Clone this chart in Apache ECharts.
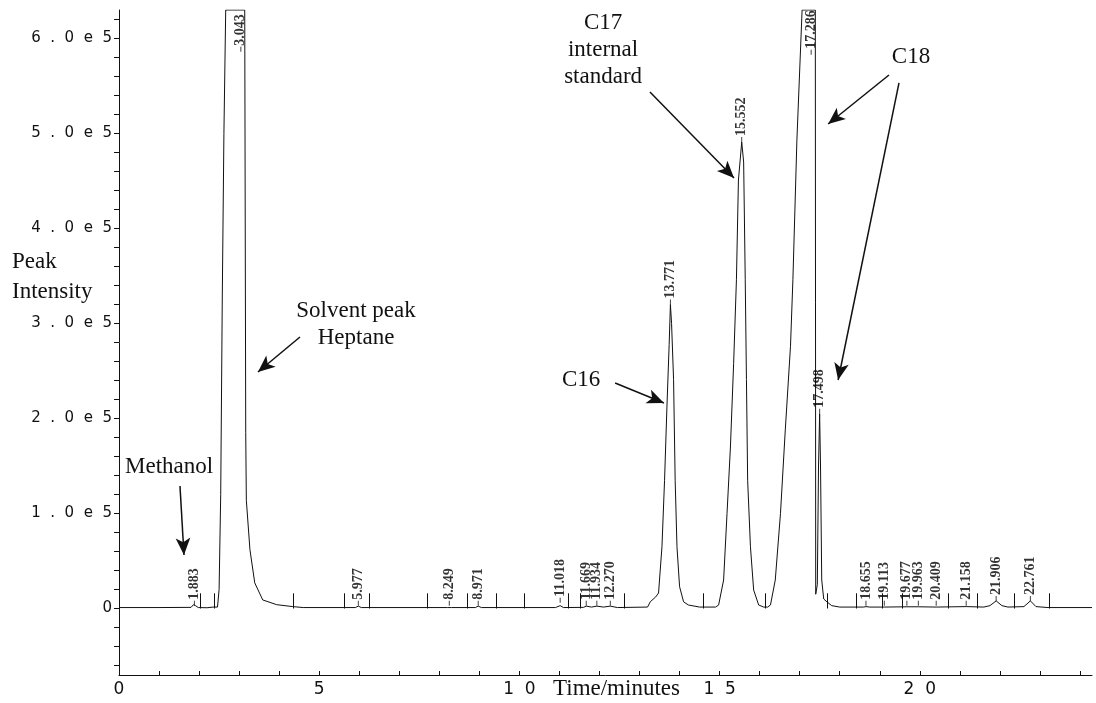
<!DOCTYPE html>
<html>
<head>
<meta charset="utf-8">
<title>Chromatogram</title>
<script src="https://cdn.jsdelivr.net/npm/echarts@6/dist/echarts.min.js"></script>
<style>
  html, body { margin: 0; padding: 0; background: #ffffff; }
  #chart { width: 1096px; height: 703px; }
</style>
</head>
<body>
<div id="chart"></div>
<script>
// ---- Chromatogram trace, [time (min), intensity] ----
const baselineEarly = [
  [0, 1000], [1.0, 1000], [1.80, 1200], [1.86, 4000], [1.883, 6000], [1.91, 3000],
  [1.98, 1000], [2.20, 800], [2.35, 1500], [2.46, 1500]
];
const solventPeak = [
  [2.50, 20000], [2.54, 120000], [2.58, 330000], [2.62, 500000], [2.665, 630000],
  [3.14, 630000], [3.165, 185000], [3.18, 114000], [3.27, 62000], [3.39, 27000],
  [3.59, 9000], [3.94, 4000], [4.34, 2000], [4.60, 1000]
];
const minorPeaksMid = [
  [5.90, 1000], [5.977, 2500], [6.05, 1000], [8.20, 1000], [8.249, 2000], [8.30, 1000],
  [8.90, 1000], [8.971, 2500], [9.05, 1000], [10.90, 1000], [11.018, 3000], [11.10, 1000],
  [11.60, 1200], [11.669, 2500], [11.80, 1500], [11.934, 2500], [12.10, 1500],
  [12.270, 2500], [12.45, 1000], [13.20, 1500]
];
const c16Peak = [
  [13.27, 7200], [13.40, 12000], [13.475, 16300], [13.56, 65000], [13.625, 135000],
  [13.685, 213000], [13.74, 278000], [13.771, 320000], [13.80, 300000], [13.85, 241000],
  [13.89, 135000], [13.935, 65000], [14.00, 23000], [14.10, 7000], [14.22, 3700], [14.50, 1500]
];
const c17Peak = [
  [14.90, 1500], [14.975, 3700], [15.10, 30000], [15.185, 100000], [15.27, 170000],
  [15.35, 258000], [15.42, 346000], [15.47, 451000], [15.552, 491000], [15.60, 470000],
  [15.64, 346000], [15.67, 241000], [15.70, 135000], [15.77, 65000], [15.85, 19500],
  [15.975, 3700], [16.10, 1500]
];
const c18Peak = [
  [16.20, 1500], [16.27, 3700], [16.39, 30000], [16.52, 100000], [16.64, 188000],
  [16.77, 276000], [16.83, 346000], [16.93, 493000], [17.06, 630000], [17.39, 630000],
  [17.40, 15000], [17.44, 25000], [17.47, 150000], [17.498, 205000], [17.52, 150000],
  [17.55, 30000], [17.60, 10000], [17.68, 7000], [17.80, 3000], [18.00, 1500]
];
const baselineLate = [
  [18.60, 1500], [18.655, 2000], [18.75, 1500], [19.113, 1500], [19.677, 1800],
  [19.963, 1800], [20.409, 1500], [21.158, 2000], [21.60, 1500], [21.75, 3000],
  [21.906, 8000], [22.05, 3000], [22.20, 1500], [22.60, 2000], [22.761, 8000],
  [22.90, 2000], [23.20, 1000], [24.30, 1000]
];

// ---- Retention-time labels and the level each label starts from ----
const peakTimes = ['1.883', '3.043', '5.977', '8.249', '8.971', '11.018', '11.669', '11.934',
  '12.270', '13.771', '15.552', '17.286', '17.498', '18.655', '19.113', '19.677', '19.963',
  '20.409', '21.158', '21.906', '22.761'];
const peakLabelLevels = [3000, 586000, 3000, 3000, 3000, 6000, 3000, 3000,
  3000, 320000, 491000, 583000, 205000, 3000, 3000, 3000, 3000,
  3000, 3000, 8000, 8000];

// ---- Integrator event marks on the baseline ----
const eventTimes = [2.02, 2.39, 4.35, 5.63, 6.25, 7.69, 8.70, 9.41, 10.12, 11.22, 11.53,
  12.63, 14.58, 16.13, 17.68, 18.42, 19.06, 19.56, 20.70, 21.43, 22.35, 23.22];
const eventMarkHeight = 16000;

// ---- Axis ticks ----
const yTickValues = [0, 100000, 200000, 300000, 400000, 500000, 600000];
const yTickLabels = ['0', '1.0e5', '2.0e5', '3.0e5', '4.0e5', '5.0e5', '6.0e5'];
const xTickValues = [0, 5, 10, 15, 20];
const xTickLabels = ['0', '5', '10', '15', '20'];

// ---- Peak annotations ----
const noteTexts = ['Methanol', 'Solvent peak\nHeptane', 'C16', 'C17\ninternal\nstandard', 'C18'];

const trace = [].concat(baselineEarly, solventPeak, minorPeaksMid, c16Peak, c17Peak, c18Peak, baselineLate);

const ink = '#111111';
const serif = '"Liberation Serif", "DejaVu Serif", serif';
const tickFont = '"DejaVu Sans", sans-serif';
const spaced = (s, gap) => s.split('').join(gap);

const yMinorTicks = [];
for (let v = -60000; v <= 620000; v += 20000) yMinorTicks.push(v);
const xMinorTicks = [];
for (let t = 0; t <= 24; t += 1) xMinorTicks.push(t);

// annotation anchors in data units [time, intensity]
const noteAnchors = [
  { coord: [0.15, 149000], align: 'left' },
  { coord: [5.92, 299000], align: 'center' },
  { coord: [11.54, 240500], align: 'center' },
  { coord: [12.09, 588000], align: 'center' },
  { coord: [19.78, 580500], align: 'center' }
];
const arrowSegments = [
  [[1.523, 128900], [1.623, 56300]],
  [[4.52, 285800], [3.47, 248900]],
  [[13.26, 543700], [15.36, 453200]],
  [[12.39, 237400], [13.61, 216300]],
  [[19.23, 561600], [17.71, 510000]],
  [[19.48, 553200], [17.96, 240500]]
];

const chart = echarts.init(document.getElementById('chart'), null, { renderer: 'canvas' });

chart.setOption({
  animation: false,
  backgroundColor: '#ffffff',
  grid: { left: 119, right: 4, top: 10, bottom: 28, containLabel: false },
  xAxis: {
    type: 'value', min: 0, max: 24.3,
    axisLine: { show: true, onZero: false, lineStyle: { color: ink, width: 1 } },
    axisTick: { show: true, inside: true, length: 4, customValues: xMinorTicks, lineStyle: { color: ink } },
    axisLabel: {
      show: true, customValues: xTickValues, margin: 6,
      color: ink, fontFamily: tickFont, fontSize: 17,
      formatter: v => spaced(xTickLabels[xTickValues.indexOf(v)] || '', '  ')
    },
    splitLine: { show: false }
  },
  yAxis: {
    type: 'value', min: -70000, max: 630000,
    axisLine: { show: true, onZero: false, lineStyle: { color: ink, width: 1 } },
    axisTick: { show: true, inside: false, length: 5, customValues: yMinorTicks, lineStyle: { color: ink } },
    axisLabel: {
      show: true, customValues: yTickValues, margin: 7,
      color: ink, fontFamily: tickFont, fontSize: 15,
      formatter: v => spaced(yTickLabels[yTickValues.indexOf(v)] || '', '  ')
    },
    splitLine: { show: false }
  },
  graphic: [
    { type: 'text', left: 12, top: 247, silent: true,
      style: { text: 'Peak\nIntensity', font: '23px ' + serif, fill: ink, lineHeight: 30 } },
    { type: 'text', left: 553, top: 677, silent: true,
      style: { text: 'Time/minutes', font: '23px ' + serif, fill: ink } }
  ],
  series: [
    {
      name: 'trace', type: 'line', data: trace, showSymbol: false, symbol: 'none',
      lineStyle: { color: ink, width: 1 }, clip: true, silent: true, z: 3,
      markPoint: {
        silent: true, symbol: 'circle', symbolSize: 1,
        itemStyle: { color: 'rgba(0,0,0,0)' },
        data: noteTexts.map((txt, i) => ({
          coord: noteAnchors[i].coord, value: txt,
          label: {
            show: true, position: 'inside', formatter: txt, align: noteAnchors[i].align,
            verticalAlign: 'middle', color: ink, fontFamily: serif, fontSize: 23, lineHeight: 27
          }
        }))
      },
      markLine: {
        silent: true, symbol: ['none', 'arrow'], symbolSize: [11, 17],
        lineStyle: { color: ink, width: 1.5, type: 'solid' },
        label: { show: false },
        data: arrowSegments.map(seg => [{ coord: seg[0] }, { coord: seg[1] }])
      }
    },
    {
      name: 'events', type: 'line', data: [], silent: true,
      markLine: {
        silent: true, symbol: ['none', 'none'],
        lineStyle: { color: ink, width: 1, type: 'solid' },
        label: { show: false },
        data: eventTimes.map(t => [{ coord: [t, 0] }, { coord: [t, eventMarkHeight] }])
      }
    },
    {
      name: 'retention times', type: 'scatter', silent: true, z: 4,
      data: peakTimes.map((rt, i) => [parseFloat(rt), peakLabelLevels[i], rt]),
      symbol: 'rect', symbolSize: [1, 5], symbolOffset: [0, '-50%'],
      itemStyle: { color: ink },
      label: {
        show: true, position: 'top', distance: 1, rotate: 90,
        align: 'left', verticalAlign: 'middle',
        formatter: p => p.value[2],
        color: '#000000', fontFamily: serif, fontSize: 14, fontWeight: 'bold'
      }
    }
  ]
});
</script>
</body>
</html>
